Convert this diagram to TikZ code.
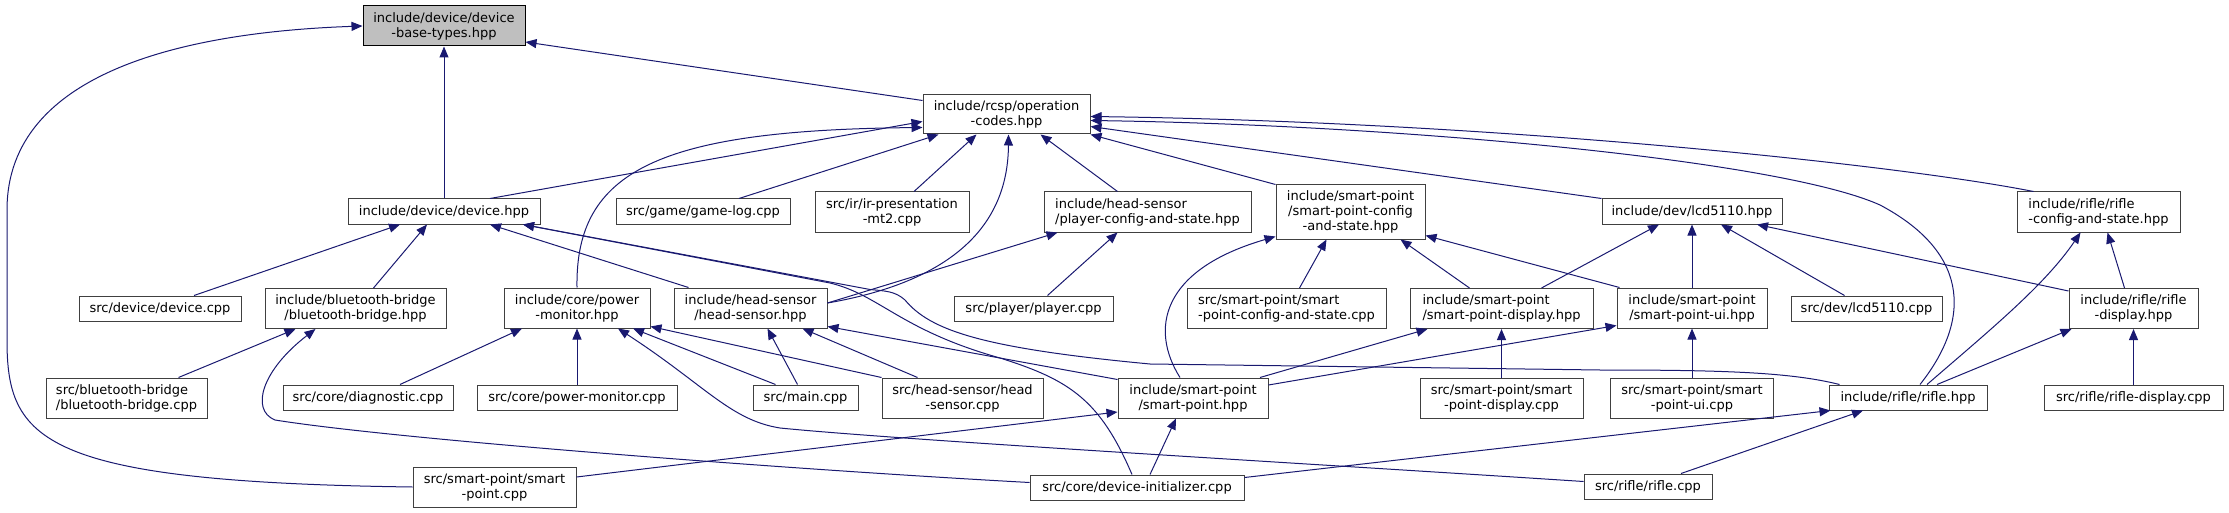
\documentclass[tikz,border=0pt]{standalone}
\usepackage{fontspec}
\setmainfont{DejaVu Sans}
\usetikzlibrary{arrows.meta,calc}
\definecolor{DepEdge}{HTML}{191970}
\definecolor{DepBorder}{HTML}{404040}
\definecolor{DepRoot}{HTML}{BFBFBF}
\newcommand{\DepText}{\fontsize{13}{15}\selectfont}
\tikzset{
  filebox/.style={
    draw=DepBorder,
    fill=white,
    line width=1pt,
    rectangle,
    align=center,
    inner sep=0pt,
    text=black,
    font=\DepText
  },
  leftbox/.style={filebox, align=left},
  rootbox/.style={filebox, draw=black, fill=DepRoot},
  deparrow/.style={
    -{Triangle[length=11pt,width=9pt]},
    draw=DepEdge,
    line width=1pt
  }
}

\begin{document}
\begin{tikzpicture}[x=1pt,y=-1pt]
\path[use as bounding box] (0,0) rectangle (2229,513);

\node[rootbox, minimum width=162pt, minimum height=40pt] (base) at (444,26)
  {include/device/device\\-base-types.hpp};
\node[filebox, minimum width=167pt, minimum height=39pt] (opcodes) at (1006.5,114.5)
  {include/rcsp/operation\\-codes.hpp};

\node[filebox, minimum width=192pt, minimum height=25pt] (devhpp) at (444,211.5) {include/device/device.hpp};
\node[filebox, minimum width=174pt, minimum height=25pt] (gamelog) at (703,211.5) {src/game/game-log.cpp};
\node[filebox, minimum width=154pt, minimum height=40pt] (irpres) at (892,212)
  {src/ir/ir-presentation\\-mt2.cpp};
\node[leftbox, minimum width=207pt, minimum height=40pt] (playercfg) at (1147.5,212)
  {include/head-sensor\\/player-config-and-state.hpp};
\node[filebox, minimum width=149pt, minimum height=54pt] (spcfghpp) at (1350.5,212)
  {include/smart-point\\/smart-point-config\\-and-state.hpp};
\node[filebox, minimum width=180pt, minimum height=25pt] (lcdhpp) at (1692,211.5) {include/dev/lcd5110.hpp};
\node[leftbox, minimum width=163pt, minimum height=40pt] (riflecfg) at (2098.5,212)
  {include/rifle/rifle\\-config-and-state.hpp};

\node[filebox, minimum width=162pt, minimum height=25pt] (devcpp) at (160,308.5) {src/device/device.cpp};
\node[filebox, minimum width=181pt, minimum height=40pt] (bthpp) at (355.5,308.5)
  {include/bluetooth-bridge\\/bluetooth-bridge.hpp};
\node[filebox, minimum width=146pt, minimum height=40pt] (pmhpp) at (577,308)
  {include/core/power\\-monitor.hpp};
\node[filebox, minimum width=153pt, minimum height=40pt] (hshpp) at (750.5,308)
  {include/head-sensor\\/head-sensor.hpp};
\node[filebox, minimum width=159pt, minimum height=25pt] (playercpp) at (1033.5,308.5) {src/player/player.cpp};
\node[leftbox, minimum width=199pt, minimum height=40pt] (spcfgcpp) at (1286.5,308.5)
  {src/smart-point/smart\\-point-config-and-state.cpp};
\node[leftbox, minimum width=183pt, minimum height=40pt] (spdisphpp) at (1501.5,308.5)
  {include/smart-point\\/smart-point-display.hpp};
\node[filebox, minimum width=150pt, minimum height=40pt] (spuihpp) at (1692,308)
  {include/smart-point\\/smart-point-ui.hpp};
\node[filebox, minimum width=151pt, minimum height=25pt] (lcdcpp) at (1866.5,308.5) {src/dev/lcd5110.cpp};
\node[filebox, minimum width=129pt, minimum height=40pt] (rdisphpp) at (2133.5,308.5)
  {include/rifle/rifle\\-display.hpp};

\node[leftbox, minimum width=161pt, minimum height=40pt] (btcpp) at (126.5,398)
  {src/bluetooth-bridge\\/bluetooth-bridge.cpp};
\node[filebox, minimum width=170pt, minimum height=25pt] (diagcpp) at (368,397.5) {src/core/diagnostic.cpp};
\node[filebox, minimum width=200pt, minimum height=25pt] (pmcpp) at (577,397.5) {src/core/power-monitor.cpp};
\node[filebox, minimum width=105pt, minimum height=25pt] (maincpp) at (805.5,397.5) {src/main.cpp};
\node[filebox, minimum width=161pt, minimum height=40pt] (hscpp) at (962.5,398)
  {src/head-sensor/head\\-sensor.cpp};
\node[filebox, minimum width=150pt, minimum height=40pt] (sphpp) at (1193,398)
  {include/smart-point\\/smart-point.hpp};
\node[filebox, minimum width=163pt, minimum height=40pt] (spdispcpp) at (1501.5,398)
  {src/smart-point/smart\\-point-display.cpp};
\node[filebox, minimum width=163pt, minimum height=40pt] (spuicpp) at (1692,398)
  {src/smart-point/smart\\-point-ui.cpp};
\node[filebox, minimum width=158pt, minimum height=25pt] (riflehpp) at (1908,397.5) {include/rifle/rifle.hpp};
\node[filebox, minimum width=179pt, minimum height=25pt] (rdispcpp) at (2133.5,397.5) {src/rifle/rifle-display.cpp};

\node[filebox, minimum width=163pt, minimum height=40pt] (spcpp) at (494.5,487)
  {src/smart-point/smart\\-point.cpp};
\node[filebox, minimum width=214pt, minimum height=25pt] (devinitcpp) at (1137,487.5) {src/core/device-initializer.cpp};
\node[filebox, minimum width=128pt, minimum height=25pt] (riflecpp) at (1648,486.5) {src/rifle/rifle.cpp};

\draw[deparrow] (devhpp.north) -- (base.south);
\draw[deparrow] ($(opcodes.north west)+(0,6)$) -- ($(base.east)+(0,16)$);
\draw[deparrow] (spcpp.west) .. controls (40,482) and (7,440) .. (7,340) -- (7,210)
  .. controls (7,70) and (190,32) .. (base.west);

\draw[deparrow] ($(devhpp.north)+(46,0)$) -- ($(opcodes.west)+(0,7)$);
\draw[deparrow] (pmhpp.north) .. controls (575,170) and (660,130) .. ($(opcodes.west)+(0,13)$);
\draw[deparrow] ($(gamelog.north)+(36,0)$) -- ($(opcodes.south)+(-68,0)$);
\draw[deparrow] ($(irpres.north)+(22,0)$) -- ($(opcodes.south)+(-30,0)$);
\draw[deparrow] ($(hshpp.east)+(0,-5)$) .. controls (960,280) and (1008,220) .. ($(opcodes.south)+(2,0)$);
\draw[deparrow] ($(playercfg.north)+(-30,0)$) -- ($(opcodes.south)+(34,0)$);
\draw[deparrow] (spcfghpp.north west) -- (opcodes.south east);
\draw[deparrow] (lcdhpp.north west) -- ($(opcodes.east)+(0,12)$);
\draw[deparrow] ($(riflehpp.north)+(12,0)$) .. controls (1975,315) and (1965,250) .. (1880,205)
  .. controls (1780,160) and (1400,125) .. ($(opcodes.east)+(0,6)$);
\draw[deparrow] ($(riflecfg.north west)+(17,0)$) .. controls (1900,165) and (1500,122) .. ($(opcodes.east)+(0,2)$);

\draw[deparrow] ($(devcpp.north)+(34,0)$) -- ($(devhpp.south)+(-44,0)$);
\draw[deparrow] ($(bthpp.north)+(18,0)$) -- ($(devhpp.south)+(-17,0)$);
\draw[deparrow] ($(hshpp.north)+(-62,0)$) -- ($(devhpp.south)+(46,0)$);
\draw[deparrow] ($(devinitcpp.north)+(-5,0)$) .. controls (1100,400) and (1070,380) .. (1000,358)
  .. controls (900,330) and (880,295) .. (830,283) -- ($(devhpp.south)+(79,0)$);
\draw[deparrow] ($(riflehpp.north west)+(11,0)$) .. controls (1790,372) and (1720,370) .. (1600,370) -- (1150,364)
  .. controls (980,348) and (930,330) .. (905,300) .. controls (895,291) and (885,291) .. (870,289.5)
  -- ($(devhpp.south)+(79,0)$);

\draw[deparrow] ($(btcpp.north)+(52,0)$) -- ($(bthpp.south)+(-60,0)$);
\draw[deparrow] ($(devinitcpp.west)+(0,-5)$) .. controls (800,470) and (400,440) .. (275,420)
  .. controls (250,410) and (262,370) .. ($(bthpp.south)+(-40,0)$);

\draw[deparrow] ($(diagcpp.north)+(32,0)$) -- ($(pmhpp.south)+(-55,0)$);
\draw[deparrow] (pmcpp.north) -- (pmhpp.south);
\draw[deparrow] ($(riflecpp.west)+(0,-5)$) .. controls (1300,463) and (900,440) .. (780,428)
  .. controls (730,420) and (705,385) .. ($(pmhpp.south)+(41,0)$);
\draw[deparrow] ($(maincpp.north)+(-30,0)$) -- ($(pmhpp.south)+(56,0)$);
\draw[deparrow] (hscpp.north west) -- ($(pmhpp.south east)+(0,-2)$);

\draw[deparrow] ($(maincpp.north)+(-8,0)$) -- ($(hshpp.south)+(17,0)$);
\draw[deparrow] ($(hscpp.north)+(-45,0)$) -- ($(hshpp.south)+(52,0)$);
\draw[deparrow] ($(sphpp.north west)+(0,2)$) -- ($(hshpp.south east)+(0,-2)$);

\draw[deparrow] ($(hshpp.east)+(0,-5)$) -- ($(playercfg.south west)+(14,0)$);
\draw[deparrow] ($(playercpp.north)+(14,0)$) -- ($(playercfg.south)+(-30,0)$);

\draw[deparrow] ($(sphpp.north)+(-13,0)$) .. controls (1150,330) and (1160,270) .. ($(spcfghpp.south west)+(0,-3)$);
\draw[deparrow] ($(spcfgcpp.north)+(13,0)$) -- ($(spcfghpp.south)+(-24,0)$);
\draw[deparrow] ($(spdisphpp.north)+(-32,0)$) -- ($(spcfghpp.south)+(50,0)$);
\draw[deparrow] ($(spuihpp.north west)+(3,0)$) -- ($(spcfghpp.south east)+(0,-4)$);

\draw[deparrow] ($(sphpp.north)+(67,0)$) -- ($(spdisphpp.south)+(-74,0)$);
\draw[deparrow] (spdispcpp.north) -- (spdisphpp.south);
\draw[deparrow] ($(sphpp.east)+(0,-13)$) -- ($(spuihpp.south west)+(0,-3)$);
\draw[deparrow] (spuicpp.north) -- (spuihpp.south);

\draw[deparrow] ($(spdisphpp.north)+(40,0)$) -- ($(lcdhpp.south)+(-33,0)$);
\draw[deparrow] (spuihpp.north) -- (lcdhpp.south);
\draw[deparrow] ($(lcdcpp.north)+(-22,0)$) -- ($(lcdhpp.south)+(29,0)$);
\draw[deparrow] ($(rdisphpp.north west)+(0,3)$) -- ($(lcdhpp.south)+(65,0)$);

\draw[deparrow] ($(riflehpp.north)+(19,0)$) .. controls (1990,330) and (2045,285) .. ($(riflecfg.south)+(-18,0)$);
\draw[deparrow] ($(rdisphpp.north)+(-9,0)$) -- ($(riflecfg.south)+(9,0)$);

\draw[deparrow] ($(riflehpp.north)+(29,0)$) -- ($(rdisphpp.south west)+(3,0)$);
\draw[deparrow] (rdispcpp.north) -- (rdisphpp.south);

\draw[deparrow] ($(devinitcpp.east)+(0,-10)$) -- ($(riflehpp.south west)+(2,0)$);
\draw[deparrow] ($(riflecpp.north)+(33,0)$) -- ($(riflehpp.south)+(-45,0)$);

\draw[deparrow] ($(spcpp.east)+(0,-10)$) -- ($(sphpp.west)+(0,14)$);
\draw[deparrow] ($(devinitcpp.north)+(13,0)$) -- ($(sphpp.south)+(-17,0)$);

\end{tikzpicture}
\end{document}
